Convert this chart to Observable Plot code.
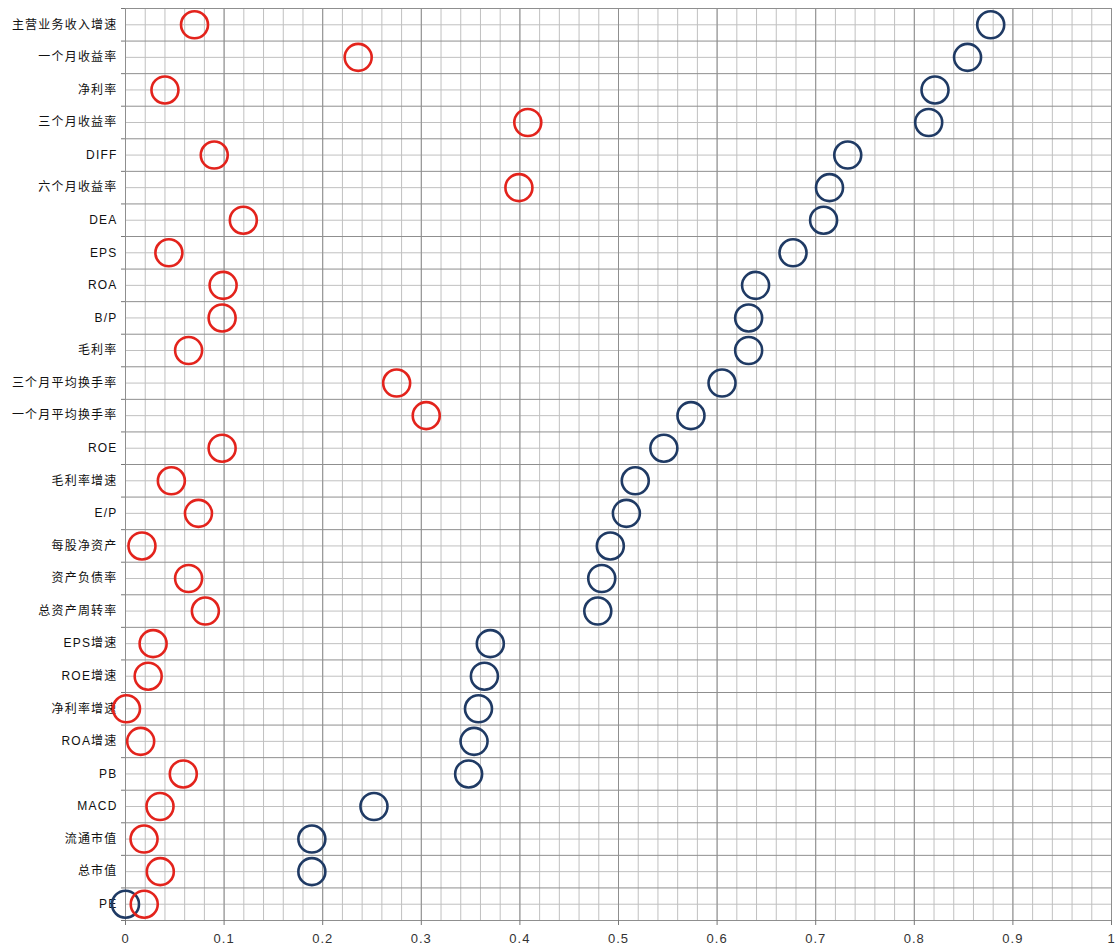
<!DOCTYPE html>
<html>
<head>
<meta charset="utf-8">
<script src="https://cdn.jsdelivr.net/npm/d3@7"></script>
<script src="https://cdn.jsdelivr.net/npm/@observablehq/plot@0.6"></script>
<style>
  html, body { margin: 0; padding: 0; background: #fff; }
  #chart svg { display: block; }
  #chart g[aria-label="y-axis tick label"] { font-size: 12px !important; }
  #chart g[aria-label="y-axis tick label"] text { letter-spacing: 1.2px; font-size: 12px !important; }
  #chart g[aria-label="x-axis tick label"] { font-size: 13px !important; }
  #chart g[aria-label="x-axis tick label"] text { letter-spacing: 1px; font-size: 13px !important; }
</style>
</head>
<body>
<div id="chart"></div>
<script>
const labels = [
  "主营业务收入增速", "一个月收益率", "净利率", "三个月收益率", "DIFF", "六个月收益率",
  "DEA", "EPS", "ROA", "B/P", "毛利率", "三个月平均换手率", "一个月平均换手率", "ROE",
  "毛利率增速", "E/P", "每股净资产", "资产负债率", "总资产周转率", "EPS增速", "ROE增速",
  "净利率增速", "ROA增速", "PB", "MACD", "流通市值", "总市值", "PE"
];
const redValues = [
  0.070, 0.236, 0.040, 0.408, 0.090, 0.399, 0.1195, 0.044, 0.099, 0.098, 0.064, 0.275,
  0.305, 0.098, 0.0465, 0.074, 0.0167, 0.064, 0.081, 0.028, 0.023, 0.001, 0.0154, 0.0586,
  0.035, 0.0188, 0.0353, 0.019
];
const blueValues = [
  0.8775, 0.854, 0.821, 0.8146, 0.7325, 0.714, 0.708, 0.677, 0.639, 0.632, 0.632, 0.605,
  0.5735, 0.546, 0.517, 0.508, 0.4917, 0.483, 0.479, 0.370, 0.364, 0.358, 0.3535, 0.348,
  0.252, 0.189, 0.189, 0.000
];
const xTicks = [0, 0.1, 0.2, 0.3, 0.4, 0.5, 0.6, 0.7, 0.8, 0.9, 1];
const xTickLabels = ["0", "0.1", "0.2", "0.3", "0.4", "0.5", "0.6", "0.7", "0.8", "0.9", "1"];
const minorTicks = d3.range(0, 51).map(i => i / 50);

const n = labels.length;
const rows = labels.map((name, i) => ({name, y: i + 0.5, red: redValues[i], blue: blueValues[i]}));
const centers = rows.map(d => d.y);
const boundaries = d3.range(0, n + 1);

const chart = Plot.plot({
  width: 1119,
  height: 951,
  marginLeft: 125,
  marginRight: 8,
  marginTop: 8,
  marginBottom: 31,
  style: {fontFamily: "'Liberation Sans', Arial, 'Noto Sans CJK SC', sans-serif", fontSize: "12px", background: "#fff", color: "#222"},
  x: {domain: [0, 1], label: null},
  y: {domain: [0, n], reverse: true, label: null},
  marks: [
    Plot.ruleX(minorTicks, {stroke: "#c0c0c0", strokeWidth: 1}),
    Plot.ruleY(centers, {stroke: "#c0c0c0", strokeWidth: 1}),
    Plot.ruleX(xTicks, {stroke: "#8f8f8f", strokeWidth: 1}),
    Plot.ruleY(boundaries, {stroke: "#8f8f8f", strokeWidth: 1}),
    Plot.axisX({ticks: xTicks, tickFormat: (d, i) => xTickLabels[i], tickSize: 5, tickPadding: 8, stroke: "#777", fill: "#333"}),
    Plot.axisY({ticks: centers, tickFormat: d => labels[Math.floor(d)], tickSize: 0, tickPadding: 8, fill: "#111"}),
    Plot.axisY({ticks: boundaries, tickFormat: () => "", tickSize: 4, stroke: "#777"}),
    Plot.dot(rows, {x: "blue", y: "y", r: 13.5, stroke: "#1f3a64", strokeWidth: 2.6, fill: "none"}),
    Plot.dot(rows, {x: "red", y: "y", r: 13.5, stroke: "#e3231c", strokeWidth: 2.6, fill: "none"})
  ]
});
document.getElementById("chart").appendChild(chart);
</script>
</body>
</html>
